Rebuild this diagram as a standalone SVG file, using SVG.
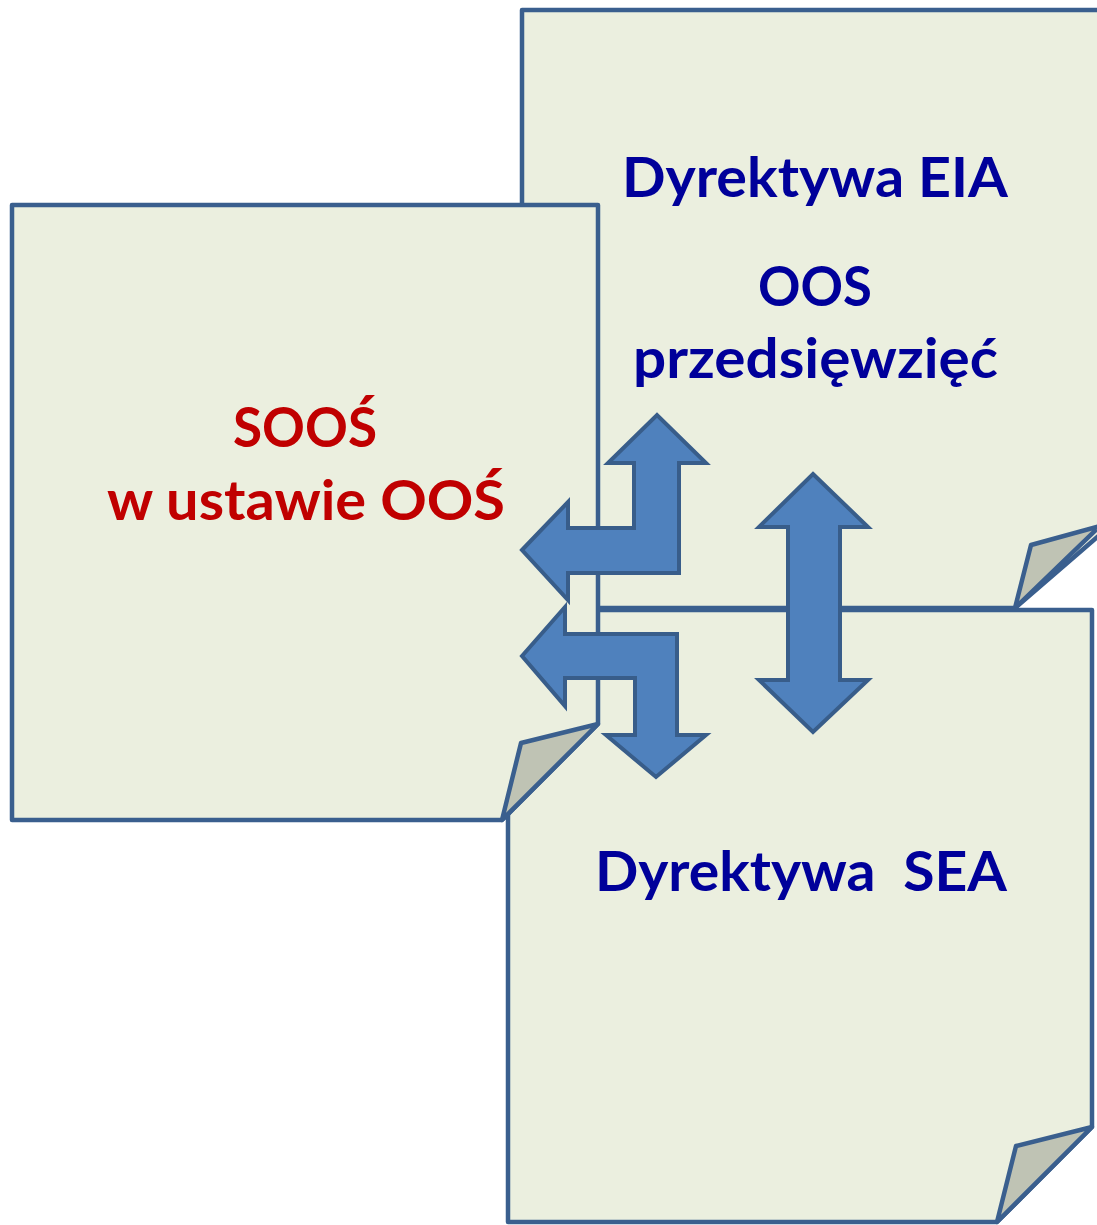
<svg xmlns="http://www.w3.org/2000/svg" width="1097" height="1225" viewBox="0 0 1097 1225">
  <style>
    .page { fill: #EBEFDF; stroke: #3A5F8E; stroke-width: 4.5; stroke-linejoin: round; }
    .fold { fill: #BFC3B4; stroke: #3A5F8E; stroke-width: 4.5; stroke-linejoin: round; }
    .arrow { fill: #4F81BD; stroke: #385D8A; stroke-width: 4; stroke-linejoin: miter; }
    .blue { font-family: Lato, "Liberation Sans", sans-serif; font-weight: bold; font-size: 55px; fill: #00009A; }
    .red { font-family: Lato, "Liberation Sans", sans-serif; font-weight: bold; font-size: 55px; fill: #C00000; }
  </style>
  <rect x="0" y="0" width="1097" height="1225" fill="#FFFFFF"/>

  <g id="node-eia">
    <path class="page" d="M522,10 H1110 V526 L1015,608 H522 Z"/>
    <polygon class="fold" points="1015,608 1031,545 1100,526"/>
    <text class="blue" x="622" y="197" textLength="386" lengthAdjust="spacingAndGlyphs">Dyrektywa EIA</text>
    <text class="blue" x="758" y="306" textLength="114" lengthAdjust="spacingAndGlyphs">OOS</text>
    <text class="blue" x="633" y="378" textLength="365" lengthAdjust="spacingAndGlyphs">przedsięwzięć</text>
  </g>

  <g id="node-sea">
    <path class="page" d="M508,610 H1092 V1127 L997,1222 H508 Z"/>
    <polygon class="fold" points="997,1222 1016,1146 1092,1127"/>
    <text class="blue" x="595" y="891" textLength="412" lengthAdjust="spacingAndGlyphs" xml:space="preserve" style="white-space:pre">Dyrektywa  SEA</text>
  </g>

  <g id="node-soos">
    <path class="page" d="M12,205 H598 V724 L502,820 H12 Z"/>
    <polygon class="fold" points="502,820 521,743 598,724"/>
    <text class="red" x="233" y="447" textLength="144" lengthAdjust="spacingAndGlyphs">SOOŚ</text>
    <text class="red" x="107" y="520" textLength="398" lengthAdjust="spacingAndGlyphs">w ustawie OOŚ</text>
  </g>

  <g id="connectors">
    <polygon class="arrow" points="522,550 568,502 568,528 634,528 634,463 608,463 657,415 706,463 679,463 679,573 568,573 568,600"/>
    <polygon class="arrow" points="522,656 565,607 565,634 677,634 677,735 706,735 656,777 606,735 635,735 635,678 565,678 565,706"/>
    <polygon class="arrow" points="813,474 868,527 840,527 840,680 868,680 813,732 759,680 788,680 788,527 759,527"/>
  </g>
</svg>
